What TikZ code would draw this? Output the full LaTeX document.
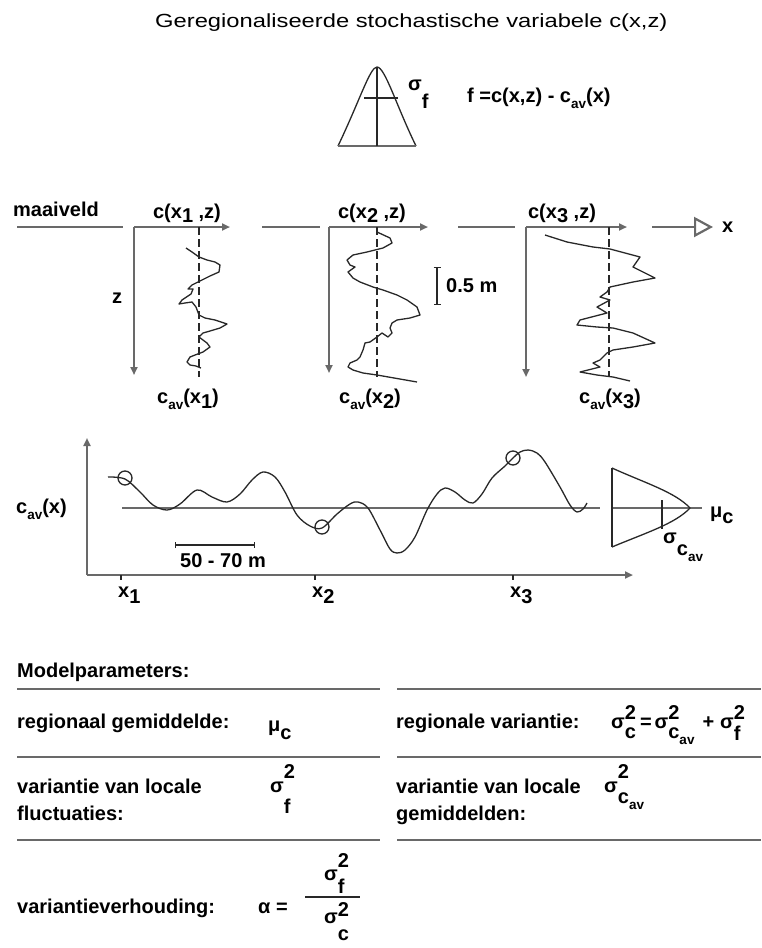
\documentclass[tikz,border=0pt]{standalone}
\usepackage{fontspec}
\setmainfont{Liberation Sans}
\newfontfamily\widefont{Liberation Sans}[FakeStretch=1.25]
\usetikzlibrary{arrows.meta}
\definecolor{axisgray}{RGB}{105,105,105}
\definecolor{inkgray}{RGB}{40,40,40}
\newcommand{\dn}[2][4pt]{\raisebox{-#1}{#2}}
\newcommand{\av}{\raisebox{-6pt}{\fontsize{13.5}{14}\selectfont av}}
\newcommand{\sq}[3]{σ\rlap{\raisebox{#1}{2}}\raisebox{-#2}{#3}}

\begin{document}
\begin{tikzpicture}[x=1pt,y=-1pt,
    axis/.style={draw=axisgray,line width=2.2pt},
    tip/.style={-{Triangle[length=8pt,width=7pt]}},
    ink/.style={draw=inkgray,line width=1.3pt,line join=round},
    txt/.style={inner sep=0pt,font=\bfseries\fontsize{20}{24}\selectfont},
    rule/.style={draw=axisgray,line width=2.5pt}]
    \useasboundingbox (0,0) rectangle (761,948);

    % title
    \node[txt,font=\widefont\fontsize{19}{23}\selectfont,anchor=base west] (title) at (155,27)
        {Geregionaliseerde stochastische variabele c(x,z)};

    % distribution of the local fluctuations
    \draw[ink] (338,146) .. controls (360,100) and (370,67) .. (377,67)
        .. controls (385,67) and (396,105) .. (416,146);
    \draw[axis] (338,146) -- (416,146);
    \draw[ink] (377,67) -- (377,146);
    \draw[ink] (364,98) -- (398,98);
    \node[txt,anchor=base west] (sigf) at (408,90) {σ\dn[18pt]{f}};
    \node[txt,anchor=base west] (fdef) at (467,102) {f =c(x,z) - c\av(x)};

    % three vertical profiles
    \node[txt,anchor=base west] (maaiveld) at (13,216) {maaiveld};
    \foreach \i/\cx/\mx/\ax/\zy/\gl/\gr/\tx/\bx in
        {1/134/199/230/375/17/123/187/188,
         2/329/377/428/373/262/320/372/370,
         3/526/609/627/377/458/515/562/610} {
        \draw[axis] (\gl,227) -- (\gr,227);
        \coordinate (o\i) at (\cx,227);
        \draw[axis,tip] (o\i) -- (\ax,227);
        \draw[axis,tip] (o\i) -- (\cx,\zy);
        \draw[ink,dash pattern=on 8pt off 4pt] (\mx,227) -- (\mx,377);
        \node[txt,anchor=base] (top\i) at (\tx,218) {c(x\dn{\i} ,z)};
        \node[txt,anchor=base] (bot\i) at (\bx,403) {c\av(x\dn[5pt]{\i})};
    }
    \node[txt] (z) at (117,298) {z};

    % measured concentrations
    \draw[ink] plot coordinates {(186,248) (192,252) (199,257) (207,260) (215,262)
        (220,265) (219,272) (210,276) (202,280) (192,285) (188,289) (193,289)
        (191,294) (182,300) (179,304) (185,303) (192,302) (196,307) (199,315)
        (205,318) (215,320) (227,324) (220,328) (210,331) (203,333) (199,337)
        (203,340) (207,343) (210,347) (203,352) (195,355) (190,357) (187,362)
        (190,365) (196,366) (201,368)};
    \draw[ink] plot coordinates {(377,232) (390,238) (392,243) (383,248) (367,252)
        (353,255) (347,260) (350,265) (355,267) (348,272) (353,278) (360,282)
        (373,287) (383,290) (397,295) (407,300) (417,307) (420,315) (410,318)
        (397,320) (392,323) (390,328) (392,333) (388,337) (382,333) (377,337)
        (370,342) (365,343) (363,350) (360,357) (357,360) (350,363) (348,367)
        (353,370) (363,373) (377,375) (417,382)};
    \draw[ink] plot coordinates {(545,235) (567,242) (593,247) (610,249) (640,257)
        (633,267) (655,278) (633,282) (610,287) (607,292) (600,297) (610,300)
        (597,307) (607,313) (580,320) (577,325) (597,327) (613,328) (633,333)
        (655,343) (633,347) (613,350) (607,353) (600,360) (593,363) (600,367)
        (580,372) (597,375) (613,377) (630,381)};

    % vertical scale
    \draw[ink,{Bar[width=7pt]}-{Bar[width=7pt]}] (437,267) -- (437,305);
    \node[txt,anchor=base west] (half) at (446,292) {0.5 m};

    % x direction
    \draw[axis,-{Triangle[open,length=19pt,width=20pt]}] (652,227) -- (713,227);
    \node[txt,anchor=west] (xdir) at (722,227) {x};

    % regional trend of the local means
    \coordinate (O) at (87,575);
    \draw[axis,tip] (O) -- (87,438);
    \draw[axis,tip] (O) -- (633,575);
    \node[txt,anchor=base west] (cavx) at (16,513) {c\av(x)};
    \draw[axis] (122,508) -- (600,508);
    \draw[axis] (612,508) -- (702,508);
    \foreach \k/\px in {1/121,2/315,3/513} {
        \draw[ink] (\px,575) -- (\px,580);
        \node[txt,anchor=base west] (x\k) at (\px-3,597) {x\dn[6pt]{\k}};
    }
    \draw[ink] plot[smooth,tension=0.55] coordinates {(108,477) (125,479) (140,492)
        (153,505) (167,510) (180,504) (197,490) (212,497) (227,502) (240,494)
        (252,480) (263,472) (275,477) (285,492) (297,515) (310,526) (322,528)
        (337,514) (350,504) (358,502) (368,508) (380,530) (390,549) (397,553)
        (405,550) (415,537) (427,510) (437,494) (445,488) (455,492) (465,500)
        (473,503) (482,494) (492,478) (505,466) (513,458) (520,452) (528,450)
        (537,453) (545,462) (560,487) (570,505) (577,512) (583,509) (587,503)};
    \foreach \cx/\cy in {125/478, 322/527, 513/458}
        \draw[ink] (\cx,\cy) circle (7);

    % horizontal scale
    \draw[ink,{Bar[width=6pt]}-{Bar[width=6pt]}] (175,545) -- (255,545);
    \node[txt,anchor=base west] (dist) at (180,567) {50 - 70 m};

    % distribution of the local means
    \draw[ink] (612,468) -- (612,547);
    \draw[ink] (612,468) .. controls (645,483) and (675,492) .. (690,508)
        .. controls (675,524) and (645,533) .. (612,547);
    \draw[ink] (662,500) -- (662,529);
    \node[txt,anchor=base west] (muc) at (710,517) {μ\dn[6pt]{c}};
    \node[txt,anchor=base west] (sigcav) at (663,543) {σ\dn[12pt]{c\av}};

    % model parameters
    \node[txt,anchor=base west] (mp) at (17,677) {Modelparameters:};
    \foreach \ly in {689,757,840} {
        \draw[rule] (17,\ly) -- (380,\ly);
        \draw[rule] (397,\ly) -- (761,\ly);
    }
    \node[txt,anchor=base west] (reggem) at (17,728) {regionaal gemiddelde:};
    \node[txt,anchor=base west] (mu) at (268,731) {μ\dn[8pt]{c}};
    \node[txt,anchor=base west] (regvar) at (396,728) {regionale variantie:};
    \node[txt,anchor=base west] (sum) at (611,728)
        {\sq{9pt}{10pt}{c}\hspace{4pt}=\hspace{3pt}\sq{9pt}{10pt}{c\av}\hspace{8pt}+\hspace{6pt}\sq{9pt}{12pt}{f}};
    \node[txt,anchor=base west] (locf1) at (17,793) {variantie van locale};
    \node[txt,anchor=base west] (locf2) at (17,820) {fluctuaties:};
    \node[txt,anchor=base west] (varf) at (270,792) {\sq{14pt}{21pt}{f}};
    \node[txt,anchor=base west] (locg1) at (396,793) {variantie van locale};
    \node[txt,anchor=base west] (locg2) at (396,820) {gemiddelden:};
    \node[txt,anchor=base west] (varcav) at (604,792) {\sq{14pt}{11pt}{c\av}};
    \node[txt,anchor=base west] (ratio) at (17,913) {variantieverhouding:};
    \node[txt,anchor=base west] (alpha) at (258,913) {α =};
    \node[txt,anchor=base west] (num) at (324,880) {\sq{13pt}{13pt}{f}};
    \draw[ink,line width=2pt] (305,897) -- (360,897);
    \node[txt,anchor=base west] (den) at (324,923) {\sq{7pt}{17pt}{c}};
\end{tikzpicture}
\end{document}
